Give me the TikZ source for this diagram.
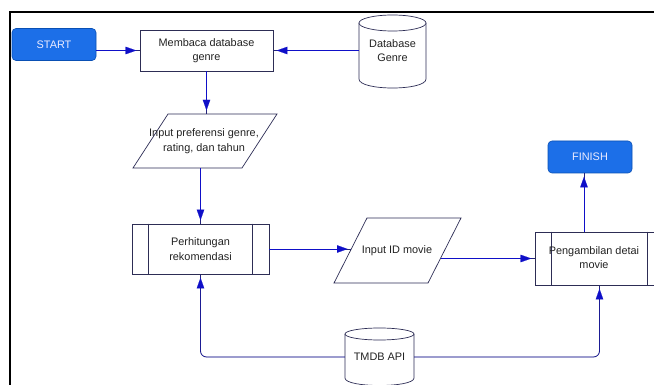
\documentclass[tikz,border=0pt]{standalone}
\usepackage{fontspec}
\setmainfont{Liberation Sans}
\usetikzlibrary{arrows.meta}
\definecolor{navy}{RGB}{35,35,120}
\definecolor{tipblue}{RGB}{15,15,200}
\definecolor{boxline}{RGB}{45,45,85}
\definecolor{termfill}{RGB}{28,111,232}
\definecolor{termline}{RGB}{10,80,180}
\definecolor{txtcol}{RGB}{35,35,35}
\begin{document}
\begin{tikzpicture}[x=1pt,y=-1pt,
  font=\fontsize{10.9}{14.5}\selectfont,
  terminal/.style={draw=termline, fill=termfill, rounded corners=4pt, text=white!92!blue,
    minimum width=84pt, minimum height=32pt, line width=0.6pt, inner sep=0pt},
  procbox/.style={draw=boxline, line width=0.7pt, fill=white, align=center, inner sep=0pt, text=txtcol},
  shapeline/.style={draw=boxline, line width=0.7pt, fill=white},
  txt/.style={align=center, inner sep=0pt, text=txtcol},
  ghost/.style={inner sep=0pt, align=center, text=txtcol},
  conn/.style={draw=navy, line width=0.8pt},
  arr/.style={conn, postaction={draw=tipblue, line width=0.1pt, shorten >=3.5pt,
    -{Triangle[length=10.5pt,width=7.5pt]}}}
]
\useasboundingbox (0,0) rectangle (654,385);
\clip (0,0) rectangle (654,385);
\fill[white] (0,0) rectangle (654,385);
% frame
\draw[line width=2pt, black] (10,12) rectangle (700,420);

% START
\node[terminal] (start) at (54,44.5) {START};
% Membaca database genre
\node[procbox, minimum width=133pt, minimum height=41pt] (baca) at (206.5,50.5) {Membaca database\\genre};

% Database Genre cylinder
\draw[shapeline] (359,23) -- (359,79) .. controls (359,91) and (426,91) .. (426,79) -- (426,23);
\draw[shapeline] (392.5,23) ellipse [x radius=33.5pt, y radius=8pt];
\node[ghost, minimum width=67pt, minimum height=40pt] (dbg) at (392.5,50.5) {Database\\Genre};

% Input preferensi parallelogram
\draw[shapeline] (168,114) -- (277,114) -- (242,168) -- (133,168) -- cycle;
\node[ghost, minimum width=144pt, minimum height=54pt] (inp1) at (204,141) {Input preferensi genre,\\rating, dan tahun};

% Perhitungan rekomendasi
\node[procbox, minimum width=137pt, minimum height=50pt] (perh) at (200.5,249) {Perhitungan\\rekomendasi};
\draw[boxline, line width=0.7pt] ([xshift=17pt]perh.north west) -- ([xshift=17pt]perh.south west);
\draw[boxline, line width=0.7pt] ([xshift=-17pt]perh.north east) -- ([xshift=-17pt]perh.south east);

% Input ID movie parallelogram
\draw[shapeline] (367,218) -- (461,218) -- (428,283) -- (334,283) -- cycle;
\node[ghost, minimum width=127pt, minimum height=65pt] (inp2) at (397,250.5) {Input ID movie};
\coordinate (inp2in) at (351,249);
\coordinate (inp2out) at (440.5,258.5);

% Pengambilan detai movie
\node[procbox, minimum width=129pt, minimum height=53pt] (peng) at (599.5,258.5) {};
\draw[boxline, line width=0.7pt] ([xshift=17pt]peng.north west) -- ([xshift=17pt]peng.south west);
\draw[boxline, line width=0.7pt] ([xshift=-17pt]peng.north east) -- ([xshift=-17pt]peng.south east);
\node[txt] (pengtxt) at (594,257.5) {Pengambilan detai\\movie};

% FINISH
\node[terminal] (finish) at (590,157) {FINISH};

% TMDB API cylinder
\draw[shapeline] (345,334) -- (345,378) .. controls (345,388) and (414,388) .. (414,378) -- (414,334);
\draw[shapeline] (379.5,334) ellipse [x radius=34.5pt, y radius=6pt];
\node[ghost, minimum width=69pt, minimum height=30pt] (tmdb) at (379.5,357) {TMDB API};

% connectors
\draw[arr] (start.east |- baca.west) -- (baca.west);
\draw[arr] (dbg.west |- baca.east) -- (baca.east);
\draw[arr] (baca.south) -- (baca.south |- inp1.north);
\draw[arr] (inp1.south -| perh.north) -- (perh.north);
\draw[arr] (perh.east) -- (inp2in);
\draw[arr] (inp2out) -- (peng.west);
\draw[arr] ([xshift=-15.5pt]peng.north) -- ([xshift=-6pt]finish.south);
\draw[arr, rounded corners=6pt] (tmdb.west) -| (perh.south);
\draw[arr, rounded corners=6pt] (tmdb.east) -| (peng.south);
\end{tikzpicture}
\end{document}
